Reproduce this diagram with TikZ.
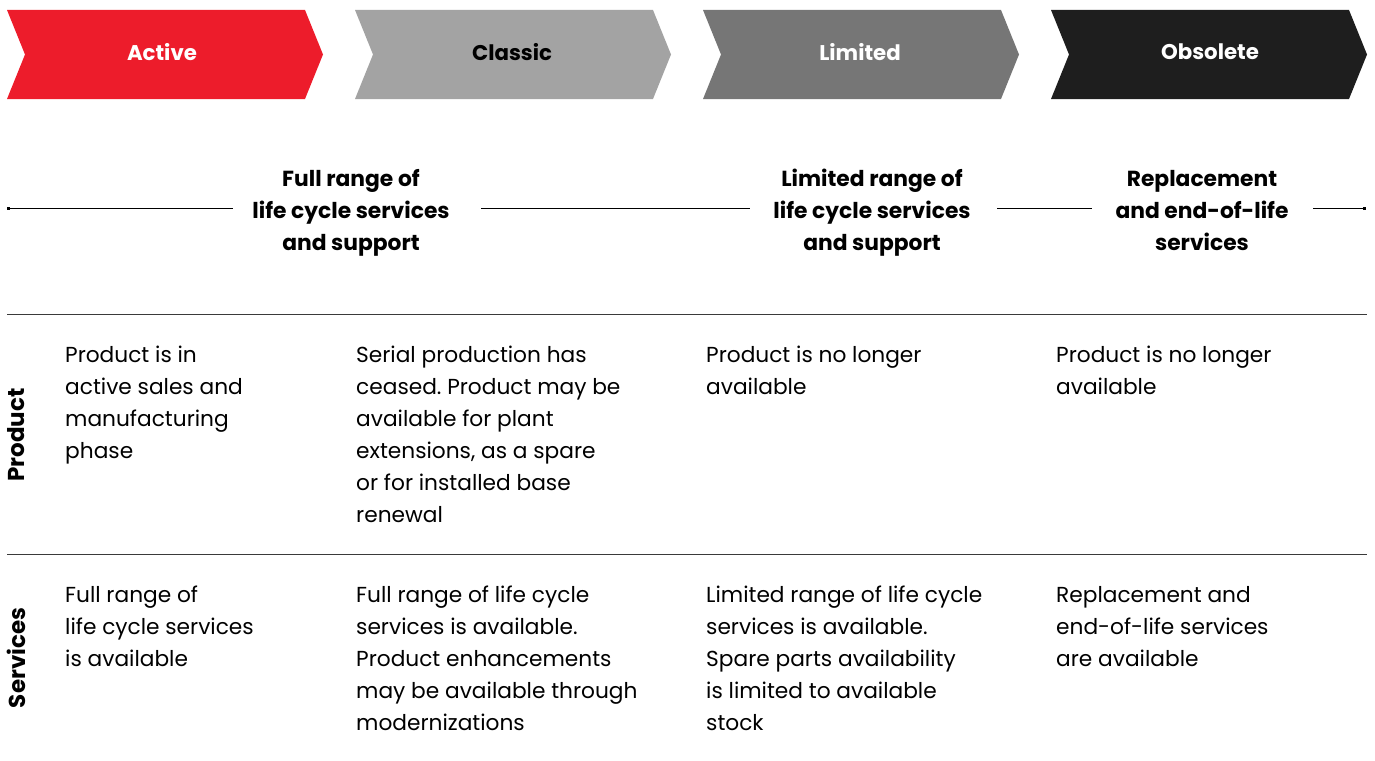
\documentclass[tikz,border=0pt]{standalone}
\usepackage{fontspec}
\setmainfont{Poppins}
\frenchspacing
\usetikzlibrary{arrows.meta}
\definecolor{abbred}{HTML}{ED1C2B}
\definecolor{classicgray}{HTML}{A3A3A3}
\definecolor{limitedgray}{HTML}{767676}
\definecolor{obsblack}{HTML}{1E1E1E}
\definecolor{rulegray}{HTML}{3A3A3A}
\newcommand{\cellblock}[1]{\begin{tabular}[t]{@{}l@{}}#1\end{tabular}}
\newcommand{\headblock}[1]{\begin{tabular}[t]{@{}c@{}}#1\end{tabular}}
\tikzset{
  chevlabel/.style={font=\fontsize{21.3}{24}\selectfont\bfseries, inner sep=0pt},
  headtext/.style={font=\fontsize{21.8}{32}\selectfont\bfseries, inner sep=0pt, anchor=base},
  celltext/.style={font=\fontsize{21.7}{32}\selectfont\frenchspacing, inner sep=0pt, anchor=base west},
  rowlabel/.style={font=\fontsize{23}{24}\selectfont\bfseries, rotate=90, inner sep=0pt},
  hline/.style={draw=rulegray, line width=1pt},
  tline/.style={draw=black, line width=0.9pt},
}
\begin{document}
\begin{tikzpicture}[x=1pt,y=-1pt]
\useasboundingbox (0,0) rectangle (1375,760);
% chevrons
\foreach \L/\col in {7/abbred,355/classicgray,703/limitedgray,1051/obsblack}{
  \fill[\col] (\L,10) -- ++(298,0) -- ++(18,44.5) -- ++(-18,44.5) -- ++(-298,0) -- ++(18,-44.5) -- cycle;
}
\node[chevlabel, text=white] (active) at (162,52) {Active};
\node[chevlabel, text=black] (classic) at (512,52) {Classic};
\node[chevlabel, text=white] (limited) at (860,52) {Limited};
\node[chevlabel, text=white] (obsolete) at (1210,52) {Obsolete};
% header texts
\node[headtext] (h1) at (351,186) {\headblock{Full range of\\life cycle services\\and support}};
\node[headtext] (h2) at (872,186) {\headblock{Limited range of\\life cycle services\\and support}};
\node[headtext] (h3) at (1202,186) {\headblock{Replacement\\and end-of-life\\services}};
% timeline
\coordinate (tstart) at (7,208);
\coordinate (a1) at (233,208);
\coordinate (b1) at (481,208);
\coordinate (a2) at (750,208);
\coordinate (b2) at (997,208);
\coordinate (a3) at (1092,208);
\coordinate (b3) at (1313,208);
\coordinate (tend) at (1366,208);
\draw[tline, {Square[length=3pt,width=3pt]}-] (tstart) -- (a1);
\draw[tline] (b1) -- (a2);
\draw[tline] (b2) -- (a3);
\draw[tline, -{Square[length=3pt,width=3pt]}] (b3) -- (tend);
% table rules
\coordinate (r1l) at (7,314); \coordinate (r1r) at (1367,314);
\coordinate (r2l) at (7,554); \coordinate (r2r) at (1367,554);
\draw[hline] (r1l) -- (r1r);
\draw[hline] (r2l) -- (r2r);
% row labels
\node[rowlabel] (prodlbl) at (16,435) {Product};
\node[rowlabel] (servlbl) at (16,658) {Services};
% product row
\node[celltext] (p1) at (65,362) {\cellblock{Product is in\\active sales and\\manufacturing\\phase}};
\node[celltext] (p2) at (356,362) {\cellblock{Serial production has\\ceased. Product may be\\available for plant\\extensions, as a spare\\or for installed base\\renewal}};
\node[celltext] (p3) at (706,362) {\cellblock{Product is no longer\\available}};
\node[celltext] (p4) at (1056,362) {\cellblock{Product is no longer\\available}};
% services row
\node[celltext] (s1) at (65,602) {\cellblock{Full range of\\life cycle services\\is available}};
\node[celltext] (s2) at (356,602) {\cellblock{Full range of life cycle\\services is available.\\Product enhancements\\may be available through\\modernizations}};
\node[celltext] (s3) at (706,602) {\cellblock{Limited range of life cycle\\services is available.\\Spare parts availability\\is limited to available\\stock}};
\node[celltext] (s4) at (1056,602) {\cellblock{Replacement and\\end-of-life services\\are available}};
\end{tikzpicture}
\end{document}
